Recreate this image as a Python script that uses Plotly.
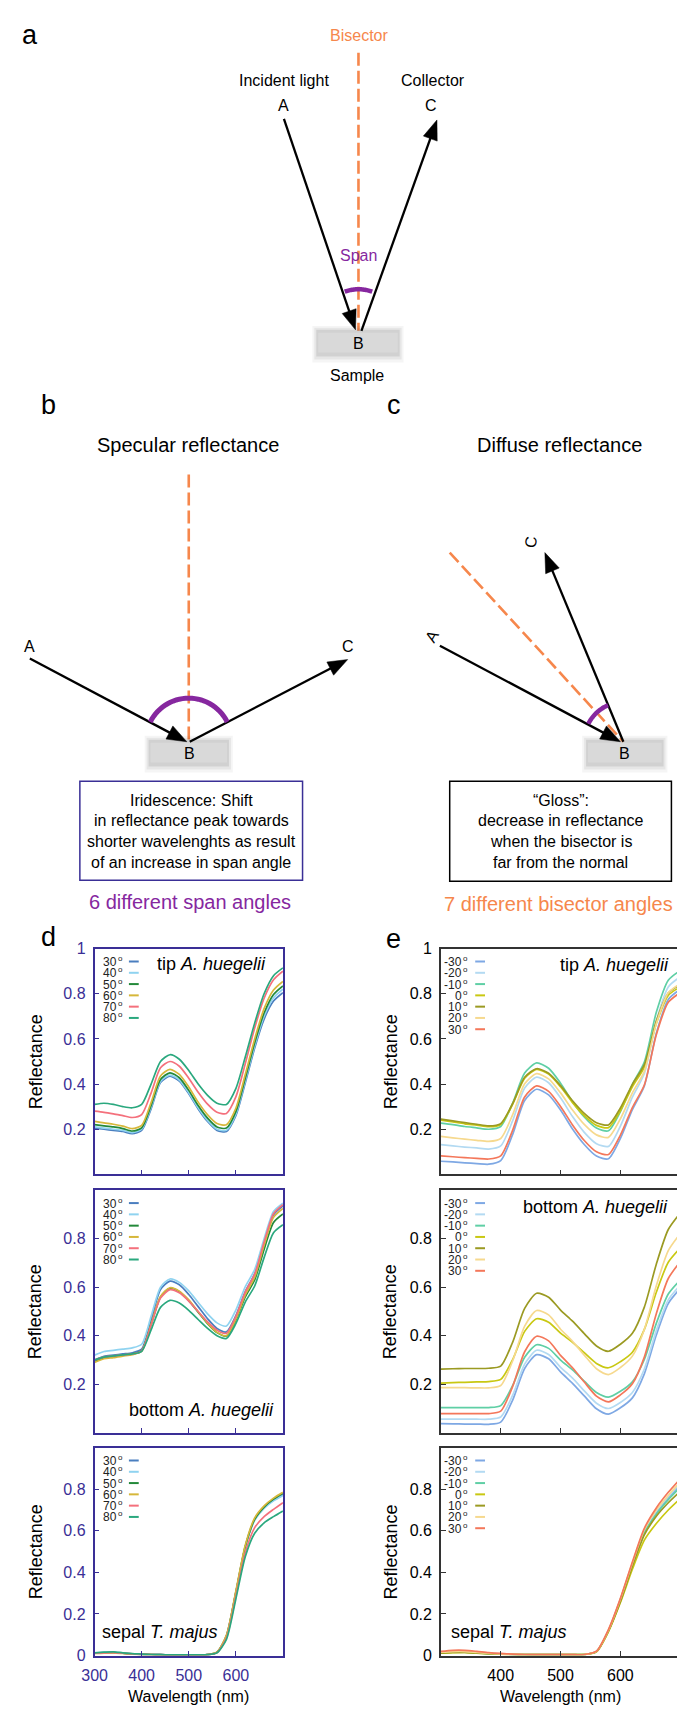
import math
import plotly.graph_objects as go

W, H = 685, 1710

# ---------------- data ----------------
wavelength = [300, 320, 340, 360, 380, 400, 420, 440, 460, 480, 500,
              520, 540, 560, 580, 600, 620, 640, 660, 680, 700]

span_labels = ["30", "40", "50", "60", "70", "80"]
span_colors = ["#4a7ebf", "#8fd3f0", "#23893a", "#d6b73a", "#f4707c", "#2aa87e"]
bis_labels = ["-30", "-20", "-10", "0", "10", "20", "30"]
bis_colors = ["#7ea8e4", "#b3daf2", "#5fcfa5", "#c9c812", "#9b9a22", "#f6d98e", "#f4775a"]

# d: tip A. huegelii, span angles
tip_span_30 = [.205, .200, .195, .190, .180, .195, .290, .407, .435, .413, .357, .290, .234, .195, .190, .260, .405, .560, .688, .768, .805]
tip_span_40 = [.210, .205, .200, .195, .185, .200, .297, .412, .440, .418, .362, .295, .239, .200, .195, .267, .414, .570, .701, .782, .820]
tip_span_50 = [.220, .215, .210, .203, .192, .206, .305, .420, .450, .428, .372, .305, .249, .210, .205, .278, .426, .583, .715, .797, .835]
tip_span_60 = [.235, .228, .222, .214, .203, .217, .318, .436, .465, .443, .387, .320, .264, .225, .220, .293, .442, .600, .734, .817, .855]
tip_span_70 = [.280, .275, .268, .260, .252, .265, .360, .472, .500, .479, .426, .364, .311, .275, .270, .343, .490, .648, .780, .862, .900]
tip_span_80 = [.310, .315, .310, .300, .295, .310, .400, .500, .530, .510, .460, .400, .350, .315, .310, .380, .520, .670, .800, .880, .915]

# d: bottom A. huegelii, span angles
bot_span_30 = [.300, .315, .320, .325, .330, .345, .465, .590, .625, .610, .570, .520, .470, .430, .416, .483, .582, .655, .785, .899, .935]
bot_span_40 = [.320, .335, .340, .345, .350, .365, .480, .600, .634, .620, .585, .537, .490, .453, .440, .506, .602, .673, .800, .912, .947]
bot_span_50 = [.295, .310, .315, .320, .325, .338, .447, .560, .596, .582, .545, .497, .450, .413, .399, .464, .560, .630, .756, .867, .902]
bot_span_60 = [.290, .305, .310, .316, .322, .336, .446, .562, .598, .584, .548, .499, .452, .414, .400, .468, .568, .641, .773, .888, .925]
bot_span_70 = [.300, .312, .317, .321, .325, .338, .444, .555, .590, .577, .543, .500, .457, .423, .410, .479, .580, .654, .786, .903, .940]
bot_span_80 = [.300, .312, .317, .321, .325, .336, .424, .517, .546, .535, .505, .467, .430, .400, .389, .450, .539, .605, .722, .825, .858]

# d: sepal T. majus, span angles
sep_span_30 = [.012, .014, .015, .011, .008, .006, .005, .004, .003, .003, .003, .003, .004, .016, .095, .305, .525, .655, .712, .748, .775]
sep_span_40 = [.013, .015, .016, .012, .008, .006, .005, .004, .003, .003, .003, .003, .004, .015, .092, .300, .520, .650, .708, .744, .770]
sep_span_50 = [.012, .013, .014, .011, .008, .006, .005, .004, .003, .003, .003, .003, .004, .016, .094, .303, .523, .655, .714, .752, .780]
sep_span_60 = [.010, .012, .013, .010, .007, .005, .004, .003, .003, .003, .003, .003, .004, .017, .098, .310, .530, .662, .720, .757, .785]
sep_span_70 = [.011, .013, .014, .011, .008, .006, .005, .004, .003, .003, .003, .003, .004, .014, .085, .285, .495, .615, .668, .703, .735]
sep_span_80 = [.013, .016, .018, .013, .009, .007, .005, .004, .003, .003, .003, .003, .004, .013, .078, .272, .475, .588, .638, .668, .695]

# e: tip A. huegelii, bisector angles
tip_bis_m30 = [.058, .055, .051, .048, .045, .061, .177, .327, .377, .352, .285, .201, .131, .081, .069, .159, .287, .392, .625, .775, .820]
tip_bis_m20 = [.132, .126, .121, .117, .112, .126, .238, .383, .431, .406, .339, .256, .185, .136, .124, .214, .342, .447, .680, .830, .875]
tip_bis_m10 = [.227, .220, .212, .206, .200, .212, .316, .449, .494, .470, .404, .322, .253, .205, .193, .278, .399, .498, .718, .860, .903]
tip_bis_0 = [.240, .232, .224, .218, .211, .221, .311, .426, .465, .444, .388, .318, .259, .217, .207, .282, .388, .475, .668, .793, .830]
tip_bis_10 = [.245, .237, .229, .222, .215, .225, .314, .430, .468, .448, .393, .326, .269, .229, .219, .294, .399, .486, .679, .803, .840]
tip_bis_20 = [.168, .162, .156, .151, .146, .159, .265, .401, .446, .423, .361, .285, .220, .175, .164, .246, .361, .457, .668, .804, .845]
tip_bis_30 = [.082, .078, .074, .071, .068, .082, .196, .343, .392, .368, .301, .219, .149, .100, .088, .174, .296, .396, .619, .762, .805]

# e: bottom A. huegelii, bisector angles
bot_bis_m30 = [.038, .037, .036, .036, .035, .044, .135, .265, .322, .305, .251, .204, .151, .099, .077, .103, .144, .243, .403, .533, .595]
bot_bis_m20 = [.056, .056, .056, .056, .056, .065, .155, .283, .340, .323, .270, .225, .172, .122, .100, .125, .166, .263, .421, .548, .609]
bot_bis_m10 = [.104, .104, .104, .104, .104, .112, .195, .311, .363, .348, .300, .259, .212, .166, .147, .171, .210, .302, .451, .572, .630]
bot_bis_0 = [.205, .207, .208, .210, .211, .220, .302, .418, .470, .456, .411, .373, .329, .286, .268, .293, .332, .426, .579, .703, .762]
bot_bis_10 = [.262, .264, .265, .265, .266, .275, .374, .513, .575, .559, .506, .460, .408, .358, .336, .365, .410, .518, .695, .838, .906]
bot_bis_20 = [.186, .186, .186, .185, .185, .195, .297, .440, .504, .486, .427, .377, .319, .264, .240, .269, .316, .426, .606, .751, .821]
bot_bis_30 = [.079, .079, .079, .079, .079, .089, .191, .334, .398, .379, .319, .268, .208, .151, .127, .156, .202, .312, .491, .636, .705]

# e: sepal T. majus, bisector angles
sep_bis_m30 = [.015, .018, .018, .014, .010, .008, .006, .005, .004, .004, .004, .004, .005, .020, .120, .270, .440, .600, .690, .760, .820]
sep_bis_m20 = [.014, .017, .017, .013, .010, .008, .006, .005, .004, .004, .004, .004, .005, .020, .120, .270, .440, .600, .695, .765, .830]
sep_bis_m10 = [.013, .016, .016, .013, .009, .007, .006, .005, .004, .004, .004, .004, .005, .019, .118, .265, .435, .590, .680, .750, .810]
sep_bis_0 = [.012, .014, .015, .012, .009, .007, .005, .004, .004, .004, .004, .004, .005, .018, .115, .255, .415, .555, .635, .700, .755]
sep_bis_10 = [.012, .015, .015, .012, .009, .007, .005, .004, .004, .004, .004, .004, .005, .019, .118, .260, .430, .580, .670, .735, .790]
sep_bis_20 = [.016, .019, .019, .015, .011, .008, .006, .005, .004, .004, .004, .004, .005, .020, .122, .272, .445, .605, .700, .770, .835]
sep_bis_30 = [.020, .025, .025, .020, .014, .010, .007, .005, .004, .004, .004, .004, .005, .021, .125, .275, .450, .612, .710, .785, .850]

d_xticks = [300, 400, 500, 600]
e_xticks = [400, 500, 600, 700]
yticks_top = [0.2, 0.4, 0.6, 0.8, 1]
yticks_mid = [0.2, 0.4, 0.6, 0.8]
yticks_bot = [0, 0.2, 0.4, 0.6, 0.8]

# ---------------- helpers ----------------
FONT = "Liberation Sans"
DBLUE = "#3a2f96"
ORANGE = "#f6874c"
PURPLE = "#86279f"

shapes = []
annotations = []


def px(x):
    return x / W


def py(y):
    return 1 - y / H


def text(x, y, s, size, color="black", xanchor="center", yanchor="middle", angle=0, pad=1):
    annotations.append(dict(x=px(x), y=py(y), xref="paper", yref="paper", text=s, showarrow=False,
                            font=dict(family=FONT, size=size, color=color), xanchor=xanchor,
                            yanchor=yanchor, textangle=angle, borderpad=pad))


def seg(x0, y0, x1, y1, color, width, dash=None):
    ln = dict(color=color, width=width)
    if dash:
        ln["dash"] = dash
    shapes.append(dict(type="line", xref="paper", yref="paper", x0=px(x0), y0=py(y0),
                       x1=px(x1), y1=py(y1), line=ln))


def rect(x0, y0, x1, y1, fill=None, line_color=None, lw=0):
    d = dict(type="rect", xref="paper", yref="paper", x0=px(x0), y0=py(y0), x1=px(x1), y1=py(y1),
             line=dict(width=lw, color=line_color or "rgba(0,0,0,0)"))
    if fill:
        d["fillcolor"] = fill
    shapes.append(d)


def arrow(x0, y0, x1, y1, hl=20, hw=15, width=2.3):
    L = math.hypot(x1 - x0, y1 - y0)
    ux, uy = (x1 - x0) / L, (y1 - y0) / L
    bx, by = x1 - ux * hl, y1 - uy * hl
    seg(x0, y0, bx + ux * 3, by + uy * 3, "black", width)
    nx, ny = -uy, ux
    p = "M {} {} L {} {} L {} {} Z".format(px(x1), py(y1), px(bx + nx * hw / 2), py(by + ny * hw / 2),
                                           px(bx - nx * hw / 2), py(by - ny * hw / 2))
    shapes.append(dict(type="path", xref="paper", yref="paper", path=p, fillcolor="black",
                       line=dict(width=0.5, color="black")))


def arc(cx, cy, r, a0, a1, color, width, n=30):
    pts = []
    for i in range(n + 1):
        a = math.radians(a0 + (a1 - a0) * i / n)
        pts.append((cx + r * math.cos(a), cy - r * math.sin(a)))
    p = "M " + " L ".join("{} {}".format(px(x), py(y)) for x, y in pts)
    shapes.append(dict(type="path", xref="paper", yref="paper", path=p,
                       line=dict(color=color, width=width)))


def sample_box(x0, y0, x1, y1):
    rect(x0 - 6, y0 - 7, x1 + 6, y1 + 10, fill="rgba(0,0,0,0.04)")
    rect(x0 - 4, y0 - 5, x1 + 4, y1 + 7, fill="rgba(0,0,0,0.06)")
    rect(x0 - 2, y0 - 3, x1 + 2, y1 + 4, fill="rgba(0,0,0,0.09)")
    rect(x0, y0, x1, y1, fill="#d9d9d9")


DASH = "13px,5px"

# ---------------- panel a ----------------
text(9, 19, "a", 27)
text(345, 20, "Bisector", 16, ORANGE)
seg(344, 37, 344, 318, ORANGE, 2.6, DASH)
text(268, 65, "Incident light", 16)
text(268, 90, "A", 16)
text(420, 65, "Collector", 16)
text(418, 90, "C", 16)
sample_box(303, 320, 384, 340)
arrow(268, 104, 341, 317)
arrow(347, 318, 424, 105)
arc(344, 317, 41, 70, 110, PURPLE, 4.5)
text(344, 242, "Span", 16, PURPLE)
text(344, 331, "B", 16)
text(343, 363, "Sample", 16)

# ---------------- panel b ----------------
text(28, 393, "b", 27)
text(170, 433, "Specular reflectance", 20)
seg(171, 463, 171, 734, ORANGE, 2.6, DASH)
sample_box(132, 734, 210, 754)
arrow(9, 649, 169, 733)
arrow(172, 733, 333, 650)
arc(171, 733, 44, 27, 153, PURPLE, 5)
text(9, 637, "A", 16)
text(333, 637, "C", 16)
text(172, 745, "B", 16)
rect(60, 773, 287, 873, line_color=DBLUE, lw=1.5)
for yy, s in zip([792, 813, 834, 855], ["Iridescence: Shift", "in reflectance peak towards",
                                         "shorter wavelenghts as result", "of an increase in span angle"]):
    text(173.5, yy, s, 16)
text(172, 895, "6 different span angles", 20, PURPLE)

# ---------------- panel c ----------------
text(380, 393, "c", 27)
text(549, 433, "Diffuse reflectance", 20)
sample_box(578, 734, 653, 754)
seg(437, 542, 614, 733, ORANGE, 2.6, DASH)
arrow(614, 733, 534, 542)
arrow(427, 636, 611, 733)
arc(614, 733, 40, 113, 153, PURPLE, 4.5)
text(419, 627, "A", 16, angle=-60)
text(520, 531, "C", 16, angle=-86)
text(615, 745, "B", 16)
rect(437, 773, 663, 874, line_color="black", lw=1.5)
for yy, s in zip([792, 813, 834, 855], ["\u201cGloss\u201d:", "decrease in reflectance",
                                         "when the bisector is", "far from the normal"]):
    text(550, yy, s, 16)
text(548, 897, "7 different bisector angles", 20, ORANGE)

# ---------------- panels d & e ----------------
text(28, 930, "d", 27)
text(380, 932, "e", 27)

rows = [(942, 1170), (1186, 1431), (1446, 1656)]
XD = (75, 267)
XE = (428, 672)

panels = [
    dict(col="d", row=0, series=[tip_span_30, tip_span_40, tip_span_50, tip_span_60, tip_span_70, tip_span_80],
         labels=span_labels, colors=span_colors, yt=yticks_top, note="tip <i>A. huegelii</i>", note_pos=(252, 958, "right")),
    dict(col="d", row=1, series=[bot_span_30, bot_span_40, bot_span_50, bot_span_60, bot_span_70, bot_span_80],
         labels=span_labels, colors=span_colors, yt=yticks_mid, note="bottom <i>A. huegelii</i>", note_pos=(260, 1408, "right")),
    dict(col="d", row=2, series=[sep_span_30, sep_span_40, sep_span_50, sep_span_60, sep_span_70, sep_span_80],
         labels=span_labels, colors=span_colors, yt=yticks_bot, note="sepal <i>T. majus</i>", note_pos=(81, 1632, "left")),
    dict(col="e", row=0, series=[tip_bis_m30, tip_bis_m20, tip_bis_m10, tip_bis_0, tip_bis_10, tip_bis_20, tip_bis_30],
         labels=bis_labels, colors=bis_colors, yt=yticks_top, note="tip <i>A. huegelii</i>", note_pos=(663, 959, "right")),
    dict(col="e", row=1, series=[bot_bis_m30, bot_bis_m20, bot_bis_m10, bot_bis_0, bot_bis_10, bot_bis_20, bot_bis_30],
         labels=bis_labels, colors=bis_colors, yt=yticks_mid, note="bottom <i>A. huegelii</i>", note_pos=(662, 1203, "right")),
    dict(col="e", row=2, series=[sep_bis_m30, sep_bis_m20, sep_bis_m10, sep_bis_0, sep_bis_10, sep_bis_20, sep_bis_30],
         labels=bis_labels, colors=bis_colors, yt=yticks_bot, note="sepal <i>T. majus</i>", note_pos=(436, 1632, "left")),
]

fig = go.Figure()
layout_axes = {}

for i, p in enumerate(panels, start=1):
    top, bot = rows[p["row"]]
    xr = XD if p["col"] == "d" else XE
    acol = DBLUE if p["col"] == "d" else "#333333"
    tcol = DBLUE if p["col"] == "d" else "black"
    xname = "x" if i == 1 else "x%d" % i
    yname = "y" if i == 1 else "y%d" % i
    for vals, c in zip(p["series"], p["colors"]):
        fig.add_trace(go.Scatter(x=wavelength, y=vals, mode="lines", xaxis=xname, yaxis=yname,
                                 line=dict(color=c, width=1.7, shape="spline", smoothing=0.7),
                                 showlegend=False, hoverinfo="skip"))
    xkey = "xaxis" if i == 1 else "xaxis%d" % i
    ykey = "yaxis" if i == 1 else "yaxis%d" % i
    layout_axes[xkey] = dict(domain=[px(xr[0]), px(xr[1])], anchor=yname, range=[300, 700],
                             showline=True, mirror=True, linecolor=acol, linewidth=1.6,
                             ticks="inside", ticklen=5, tickwidth=1.3, tickcolor=acol,
                             tickvals=d_xticks if p["col"] == "d" else e_xticks,
                             showticklabels=(p["row"] == 2), ticklabelstandoff=4,
                             tickfont=dict(family=FONT, size=16, color=tcol),
                             showgrid=False, zeroline=False, fixedrange=True)
    layout_axes[ykey] = dict(domain=[py(bot), py(top)], anchor=xname, range=[0, 1],
                             showline=True, mirror=True, linecolor=acol, linewidth=1.6,
                             ticks="inside", ticklen=5, tickwidth=1.3, tickcolor=acol,
                             tickvals=p["yt"], ticklabelstandoff=4,
                             tickfont=dict(family=FONT, size=16, color=tcol),
                             showgrid=False, zeroline=False, fixedrange=True)
    # legend (custom key: label, small raised "o", then short line)
    lab_right = 104 if p["col"] == "d" else 456
    l0, l1 = (110, 120) if p["col"] == "d" else (463, 473)
    for k, (lab, c) in enumerate(zip(p["labels"], p["colors"])):
        yy = top + 13 + k * 11.4
        text(lab_right - 5, yy + 0.5, lab, 12, "#222222", xanchor="right", pad=0)
        text(lab_right - 6, yy - 3, "o", 8, "#222222", xanchor="left", pad=0)
        seg(l0, yy, l1, yy, c, 2)
    nx, ny, anc = p["note_pos"]
    text(nx, ny, p["note"], 18, "black", xanchor=anc)
    # y-axis title
    text(15 if p["col"] == "d" else 377, (top + bot) / 2, "Reflectance", 18, angle=-90)

text(171, 1697, "Wavelength (nm)", 16)
text(550, 1697, "Wavelength (nm)", 16)

fig.update_layout(width=W, height=H, margin=dict(l=0, r=0, t=0, b=0),
                  paper_bgcolor="white", plot_bgcolor="white",
                  shapes=shapes, annotations=annotations, showlegend=False, **layout_axes)

fig.write_html("out.html")
